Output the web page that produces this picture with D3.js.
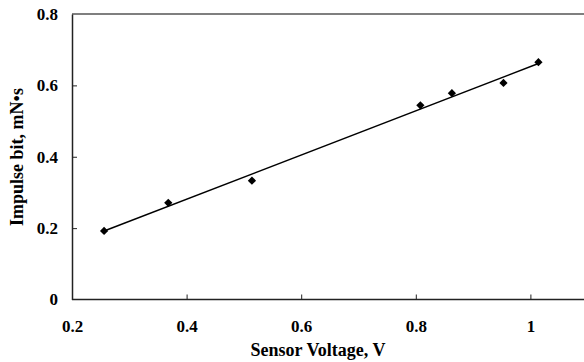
<!DOCTYPE html>
<html>
<head>
<meta charset="utf-8">
<script src="https://cdn.jsdelivr.net/npm/d3@7/dist/d3.min.js"></script>
<style>
body { margin: 0; background: #fff; }
</style>
</head>
<body>
<div id="viz"></div>
<script>
var width = 584;
var height = 362;
var font = "'Liberation Serif', 'Times New Roman', serif";

var voltage = [0.256, 0.368, 0.514, 0.808, 0.863, 0.953, 1.014];
var impulse = [0.192, 0.271, 0.333, 0.544, 0.578, 0.607, 0.665];
var xTicks = [0.2, 0.4, 0.6, 0.8, 1];
var yTicks = [0, 0.2, 0.4, 0.6, 0.8];

var x = d3.scaleLinear()
	.domain([0.2, 1.2])
	.range([72, 645]);

var y = d3.scaleLinear()
	.domain([0, 0.8])
	.range([299.5, 14]);

var svg = d3.select("#viz").append("svg")
	.attr("width", width)
	.attr("height", height);

// least squares trend line, like the spreadsheet one
var mx = d3.mean(voltage), my = d3.mean(impulse);
var sxy = d3.sum(voltage, function(d, i) { return (d - mx) * (impulse[i] - my); });
var sxx = d3.sum(voltage, function(d) { return (d - mx) * (d - mx); });
var slope = sxy / sxx;
var icpt = my - slope * mx;
var xEnds = d3.extent(voltage);

// top border
svg.append("line")
	.attr("x1", x(0.2)).attr("x2", x(1.2))
	.attr("y1", y(0.8)).attr("y2", y(0.8))
	.style("stroke", "#555")
	.style("stroke-width", 1.5);

var xAxis = svg.append("g")
	.attr("transform", "translate(0," + y(0) + ")")
	.call(d3.axisBottom(x).tickValues(xTicks).tickSizeInner(-5).tickSizeOuter(0).tickPadding(20)
		.tickFormat(function(d) { return d3.format("")(d); }));

var yAxis = svg.append("g")
	.attr("transform", "translate(" + x(0.2) + ",0)")
	.call(d3.axisLeft(y).tickValues(yTicks).tickSizeInner(-5).tickSizeOuter(0).tickPadding(14)
		.tickFormat(function(d) { return d3.format("")(d); }));

[xAxis, yAxis].forEach(function(a) {
	a.attr("font-family", null).attr("font-size", null);
	a.select(".domain").style("stroke", "#222").style("stroke-width", 1.5);
	a.selectAll(".tick line").style("stroke", "#222");
	a.selectAll(".tick text")
		.style("font-family", font)
		.style("font-weight", "bold")
		.style("font-size", "17px")
		.style("fill", "#000");
});
xAxis.select(".domain").attr("d", "M" + x(0.2) + ",0H" + width);
yAxis.selectAll(".tick").filter(function(d) { return d == 0 || d == 0.8; }).select("line").remove();
xAxis.selectAll(".tick").filter(function(d) { return d == 0.2; }).select("line").remove();

svg.append("line")
	.attr("x1", x(xEnds[0])).attr("x2", x(xEnds[1]))
	.attr("y1", y(icpt + slope * xEnds[0]))
	.attr("y2", y(icpt + slope * xEnds[1]))
	.style("stroke", "#000")
	.style("stroke-width", 1.5);

svg.selectAll(".pt")
	.data(voltage)
	.enter().append("path")
		.attr("class", "pt")
		.attr("d", d3.symbol().type(d3.symbolSquare).size(34))
		.attr("transform", function(d, i) { return "translate(" + x(d) + "," + y(impulse[i]) + ") rotate(45)"; })
		.style("fill", "#000");

svg.append("text")
	.attr("x", 318)
	.attr("y", 356)
	.attr("text-anchor", "middle")
	.style("font-family", font)
	.style("font-weight", "bold")
	.style("font-size", "18px")
	.text("Sensor Voltage, V");

svg.append("text")
	.attr("transform", "translate(23,157) rotate(-90)")
	.attr("text-anchor", "middle")
	.style("font-family", font)
	.style("font-weight", "bold")
	.style("font-size", "18px")
	.text("Impulse bit, mN\u2022s");
</script>
</body>
</html>
